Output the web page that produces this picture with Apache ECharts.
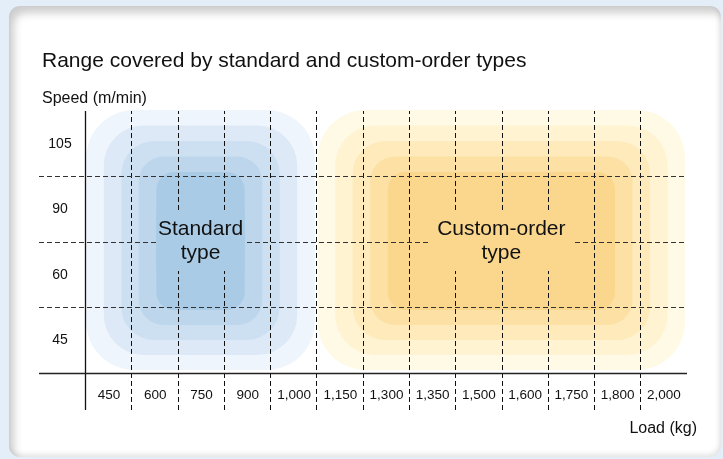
<!DOCTYPE html>
<html>
<head>
<meta charset="utf-8">
<script src="https://cdn.jsdelivr.net/npm/echarts@6/dist/echarts.min.js"></script>
<style>
  html, body { margin: 0; padding: 0; }
  body { width: 723px; height: 459px; background: #e4eef8; position: relative; overflow: hidden; }
  .panel {
    position: absolute; left: 9px; top: 6px; width: 712px; height: 451px;
    background: #fff; border-radius: 11px;
    box-shadow: inset 5px 7px 9px rgba(0, 0, 0, 0.2), inset -2px -3px 5px rgba(0, 0, 0, 0.1);
  }
  #chart { position: absolute; left: 0; top: 0; width: 723px; height: 459px; }
</style>
</head>
<body>
<div class="panel"></div>
<div id="chart"></div>
<script>
// axis categories
const loadCats = ["450", "600", "750", "900", "1,000", "1,150", "1,300", "1,350", "1,500", "1,600", "1,750", "1,800", "2,000"];
const speedCats = ["45", "60", "90", "105"];

// the two ranges (first / last category covered)
const regionNames = ["Standard\ntype", "Custom-order\ntype"];
const regionLoadFrom = ["450", "1,150"];
const regionLoadTo = ["1,000", "2,000"];
const regionSpeedFrom = ["45", "45"];
const regionSpeedTo = ["105", "105"];

// layer colours, outside -> inside
const blueLayers = ["#eef5fc", "#dde9f6", "#cde0f1", "#bdd6ec", "#aacbe5"];
const yellowLayers = ["#fffae6", "#fff3d1", "#feeabb", "#fce0a4", "#fad78c"];
const layerSets = [blueLayers, yellowLayers];

const FONT = "'Liberation Sans', Arial, sans-serif";
const LABEL_FONT = "21px " + FONT;

let myChart = echarts.init(document.getElementById("chart"), null, { renderer: "canvas" });

// plot rows are 65.5px, the label row under the axis is 37px
const labelRowUnits = -37 / 65.5;

const regionData = regionNames.map(function (name, i) {
  return [
    loadCats.indexOf(regionLoadFrom[i]),
    loadCats.indexOf(regionLoadTo[i]) + 1,
    speedCats.indexOf(regionSpeedFrom[i]),
    speedCats.indexOf(regionSpeedTo[i]) + 1,
    i
  ];
});

const radii = [48, 40, 33, 25, 18];
const stepX = 17.5, stepTop = 15.5, stepBottom = 15;

function layerRect(api, k) {
  const tl = api.coord([api.value(0), api.value(3)]);
  const br = api.coord([api.value(1), api.value(2)]);
  const x0 = tl[0] + 1 + k * stepX;
  const x1 = br[0] - 2 - k * stepX;
  const y0 = tl[1] - 1 + k * stepTop;
  const y1 = br[1] - 3 - k * stepBottom;
  return { x: x0, y: y0, width: x1 - x0, height: y1 - y0 };
}

// width of the widest line of a label
const measureCtx = document.createElement("canvas").getContext("2d");
function textWidth(text) {
  measureCtx.font = LABEL_FONT;
  return Math.max.apply(null, text.split("\n").map(function (t) { return measureCtx.measureText(t).width; }));
}

const vLines = [];
for (let i = 1; i < loadCats.length; i++) vLines.push({ xAxis: i });
const hLines = [];
for (let j = 1; j < speedCats.length; j++) hLines.push({ yAxis: j });

var option = {
  animation: false,
  textStyle: { fontFamily: FONT },
  title: [
    {
      text: "Range covered by standard and custom-order types",
      left: 42,
      top: 51,
      padding: 0,
      textStyle: { fontFamily: FONT, fontSize: 21, fontWeight: "normal", color: "#111" }
    },
    {
      text: "Speed (m/min)",
      left: 42,
      top: 91,
      padding: 0,
      textStyle: { fontFamily: FONT, fontSize: 16, fontWeight: "normal", color: "#111" }
    },
    {
      text: "Load (kg)",
      right: 26,
      top: 421,
      padding: 0,
      textStyle: { fontFamily: FONT, fontSize: 16, fontWeight: "normal", color: "#111" }
    }
  ],
  grid: [
    // full frame incl. label column / row
    { left: 39, right: 36, top: 111, bottom: 49 },
    // plot area
    { left: 86, right: 36, top: 111, bottom: 86 }
  ],
  xAxis: [
    { gridIndex: 0, type: "value", min: -1, max: loadCats.length, show: false },
    {
      gridIndex: 1,
      type: "category",
      data: loadCats,
      axisLine: { show: false },
      axisTick: { show: false },
      splitLine: { show: false },
      axisLabel: { margin: 15, fontSize: 13.5, color: "#111", fontFamily: FONT }
    }
  ],
  yAxis: [
    { gridIndex: 0, type: "value", min: labelRowUnits, max: speedCats.length, show: false },
    {
      gridIndex: 1,
      type: "category",
      data: speedCats,
      axisLine: { show: false },
      axisTick: { show: false },
      splitLine: { show: false },
      axisLabel: { margin: 26, align: "center", fontSize: 14, color: "#111", fontFamily: FONT }
    }
  ],
  series: [
    {
      name: "ranges",
      type: "custom",
      xAxisIndex: 0,
      yAxisIndex: 0,
      z: 2,
      silent: true,
      data: regionData,
      renderItem: function (params, api) {
        const colors = layerSets[api.value(4)];
        const children = colors.map(function (c, k) {
          return {
            type: "rect",
            shape: Object.assign(layerRect(api, k), { r: radii[k] }),
            style: { fill: c }
          };
        });
        return { type: "group", children: children };
      }
    },
    {
      name: "grid lines",
      type: "line",
      xAxisIndex: 0,
      yAxisIndex: 0,
      z: 3,
      data: [],
      markLine: {
        silent: true,
        z: 3,
        symbol: ["none", "none"],
        label: { show: false },
        emphasis: { disabled: true },
        data: [
          ...vLines.map(function (d) {
            return Object.assign({}, d, { lineStyle: { color: "#111", width: 1, type: [5, 3] } });
          }),
          ...hLines.map(function (d) {
            return Object.assign({}, d, { lineStyle: { color: "#333", width: 1, type: [5, 3] } });
          }),
          { xAxis: 0, lineStyle: { color: "#111", width: 1.3, type: "solid" } },
          { yAxis: 0, lineStyle: { color: "#222", width: 1.3, type: "solid" } }
        ]
      }
    },
    {
      name: "range labels",
      type: "custom",
      xAxisIndex: 0,
      yAxisIndex: 0,
      z: 10,
      silent: true,
      data: regionData,
      renderItem: function (params, api) {
        const colors = layerSets[api.value(4)];
        const inner = colors[colors.length - 1];
        const r = layerRect(api, colors.length - 1);
        const text = regionNames[params.dataIndex];
        const cx = r.x + r.width / 2;
        const cy = r.y + r.height / 2;
        // mask behind the text, kept inside the innermost layer
        const w = Math.min(textWidth(text) + 14, r.width);
        const h = 60;
        return {
          type: "group",
          children: [
            {
              type: "rect",
              shape: { x: cx - w / 2, y: cy - h / 2, width: w, height: h },
              style: { fill: inner }
            },
            {
              type: "text",
              style: {
                text: text,
                x: cx,
                y: cy,
                align: "center",
                verticalAlign: "middle",
                font: LABEL_FONT,
                lineHeight: 24,
                fill: "#111"
              }
            }
          ]
        };
      }
    }
  ]
};

option && myChart.setOption(option);
</script>
</body>
</html>
